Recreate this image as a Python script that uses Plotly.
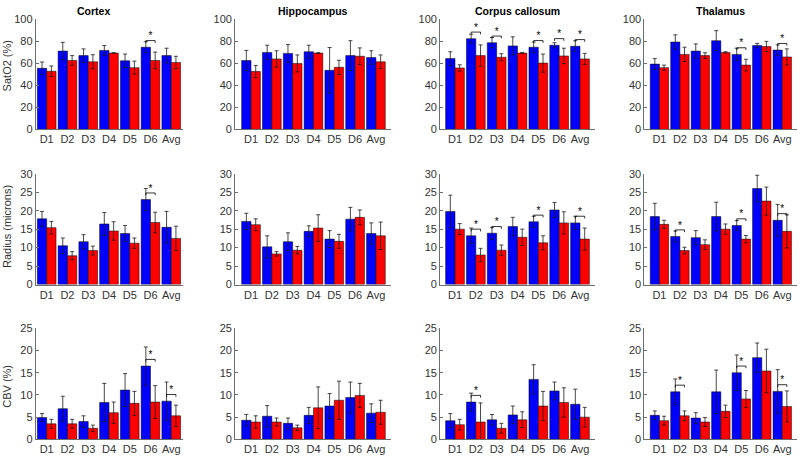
import plotly.graph_objects as go

# ---------------- data ----------------
categories = ["D1", "D2", "D3", "D4", "D5", "D6", "Avg"]
regions = ["Cortex", "Hippocampus", "Corpus callosum", "Thalamus"]
metric_labels = ["SatO2 (%)", "Radius (microns)", "CBV (%)"]
metric_ranges = [100, 30, 25]
metric_ticks = [[0, 20, 40, 60, 80, 100], [0, 5, 10, 15, 20, 25, 30], [0, 5, 10, 15, 20, 25]]

# SatO2 (%)
cortex_sato2_blue = [55.3, 70.9, 66.8, 71.5, 62.1, 74.4, 66.8]
cortex_sato2_blue_err = [5.7, 7.9, 6.1, 4.4, 6.1, 5.0, 6.7]
cortex_sato2_red = [52.6, 62.4, 61.2, 69.1, 55.9, 62.4, 60.6]
cortex_sato2_red_err = [4.8, 4.4, 6.4, 0.3, 5.9, 7.6, 5.6]
cortex_sato2_sig = ["D6"]

hippo_sato2_blue = [62.4, 69.7, 68.8, 70.3, 53.5, 66.8, 65.0]
hippo_sato2_blue_err = [9.1, 6.5, 8.0, 5.9, 20.6, 13.5, 6.2]
hippo_sato2_red = [52.4, 63.8, 59.7, 69.1, 56.2, 66.2, 61.2]
hippo_sato2_red_err = [5.5, 7.4, 7.7, 0.3, 6.4, 7.6, 6.2]
hippo_sato2_sig = []

cc_sato2_blue = [64.1, 82.1, 78.5, 75.6, 74.4, 76.2, 75.3]
cc_sato2_blue_err = [6.2, 4.1, 4.7, 8.2, 4.7, 2.3, 5.0]
cc_sato2_red = [55.6, 66.8, 65.3, 69.1, 60.0, 66.5, 63.8]
cc_sato2_red_err = [2.9, 9.7, 3.2, 0.6, 8.2, 7.0, 5.0]
cc_sato2_sig = ["D2", "D3", "D5", "D6", "Avg"]

thal_sato2_blue = [59.1, 79.1, 70.9, 80.3, 67.9, 75.9, 71.8]
thal_sato2_blue_err = [5.0, 6.5, 6.5, 9.1, 5.6, 2.0, 4.7]
thal_sato2_red = [55.9, 67.9, 66.8, 69.7, 58.2, 75.0, 65.6]
thal_sato2_red_err = [2.3, 6.5, 2.6, 0.6, 5.3, 4.7, 7.3]
thal_sato2_sig = ["D5", "Avg"]

# Radius (microns)
cortex_radius_blue = [17.8, 10.5, 11.6, 16.4, 13.8, 23.0, 15.5]
cortex_radius_blue_err = [2.0, 2.1, 1.9, 3.1, 2.2, 3.0, 4.3]
cortex_radius_red = [15.4, 7.8, 9.2, 14.5, 11.2, 16.8, 12.5]
cortex_radius_red_err = [1.7, 1.1, 1.2, 2.5, 1.4, 2.8, 3.3]
cortex_radius_sig = ["D6"]

hippo_radius_blue = [17.1, 10.2, 11.6, 14.4, 12.3, 17.7, 13.8]
hippo_radius_blue_err = [2.2, 3.0, 2.4, 1.5, 2.3, 3.2, 2.9]
hippo_radius_red = [16.2, 8.3, 9.3, 15.3, 11.7, 18.2, 13.2]
hippo_radius_red_err = [1.6, 0.6, 1.0, 3.6, 1.9, 2.0, 3.7]
hippo_radius_sig = []

cc_radius_blue = [19.8, 13.2, 13.9, 15.7, 17.0, 20.2, 16.7]
cc_radius_blue_err = [4.4, 2.1, 1.6, 2.5, 1.5, 2.0, 1.8]
cc_radius_red = [15.0, 8.0, 9.3, 12.8, 11.3, 16.7, 12.3]
cc_radius_red_err = [1.5, 1.8, 1.4, 2.2, 1.9, 3.0, 3.0]
cc_radius_sig = ["D2", "D3", "D5", "Avg"]

thal_radius_blue = [18.4, 13.0, 12.7, 18.4, 16.0, 26.0, 17.4]
thal_radius_blue_err = [3.6, 1.5, 1.9, 3.9, 1.3, 3.6, 4.3]
thal_radius_red = [16.3, 9.2, 10.8, 15.0, 12.3, 22.6, 14.4]
thal_radius_red_err = [1.1, 0.9, 1.3, 1.4, 1.0, 3.8, 4.5]
thal_radius_sig = ["D2", "D5", "Avg"]

# CBV (%)
cortex_cbv_blue = [4.9, 6.9, 4.0, 8.3, 11.1, 16.5, 8.6]
cortex_cbv_blue_err = [0.9, 2.8, 1.3, 4.3, 3.7, 4.3, 4.3]
cortex_cbv_red = [3.5, 3.5, 2.5, 6.0, 8.1, 8.4, 5.3]
cortex_cbv_red_err = [1.0, 1.0, 0.7, 2.4, 2.7, 3.7, 2.4]
cortex_cbv_sig = ["D6", "Avg"]

hippo_cbv_blue = [4.3, 5.2, 3.6, 5.4, 7.5, 9.4, 5.9]
hippo_cbv_blue_err = [1.3, 2.4, 1.2, 1.8, 2.8, 3.5, 2.1]
hippo_cbv_red = [3.9, 3.9, 2.6, 7.1, 8.8, 9.9, 6.1]
hippo_cbv_red_err = [1.4, 0.9, 0.6, 4.7, 4.3, 2.7, 2.7]
hippo_cbv_sig = []

cc_cbv_blue = [4.2, 8.4, 4.4, 5.5, 13.5, 10.9, 7.9]
cc_cbv_blue_err = [1.6, 2.0, 1.2, 2.0, 3.3, 2.0, 3.4]
cc_cbv_red = [3.3, 3.9, 2.5, 4.4, 7.5, 8.3, 5.0]
cc_cbv_red_err = [1.2, 4.3, 1.1, 1.8, 3.3, 3.3, 2.2]
cc_cbv_sig = ["D2"]

thal_cbv_blue = [5.4, 10.7, 4.8, 10.7, 15.0, 18.4, 10.8]
thal_cbv_blue_err = [1.0, 2.9, 1.2, 4.9, 4.0, 3.3, 4.9]
thal_cbv_red = [4.2, 5.3, 3.9, 6.3, 9.1, 15.4, 7.4]
thal_cbv_red_err = [1.0, 1.1, 1.0, 1.4, 1.9, 4.9, 3.5]
thal_cbv_sig = ["D2", "D5", "Avg"]

panels = [
    [
        (cortex_sato2_blue, cortex_sato2_blue_err, cortex_sato2_red, cortex_sato2_red_err, cortex_sato2_sig),
        (hippo_sato2_blue, hippo_sato2_blue_err, hippo_sato2_red, hippo_sato2_red_err, hippo_sato2_sig),
        (cc_sato2_blue, cc_sato2_blue_err, cc_sato2_red, cc_sato2_red_err, cc_sato2_sig),
        (thal_sato2_blue, thal_sato2_blue_err, thal_sato2_red, thal_sato2_red_err, thal_sato2_sig),
    ],
    [
        (cortex_radius_blue, cortex_radius_blue_err, cortex_radius_red, cortex_radius_red_err, cortex_radius_sig),
        (hippo_radius_blue, hippo_radius_blue_err, hippo_radius_red, hippo_radius_red_err, hippo_radius_sig),
        (cc_radius_blue, cc_radius_blue_err, cc_radius_red, cc_radius_red_err, cc_radius_sig),
        (thal_radius_blue, thal_radius_blue_err, thal_radius_red, thal_radius_red_err, thal_radius_sig),
    ],
    [
        (cortex_cbv_blue, cortex_cbv_blue_err, cortex_cbv_red, cortex_cbv_red_err, cortex_cbv_sig),
        (hippo_cbv_blue, hippo_cbv_blue_err, hippo_cbv_red, hippo_cbv_red_err, hippo_cbv_sig),
        (cc_cbv_blue, cc_cbv_blue_err, cc_cbv_red, cc_cbv_red_err, cc_cbv_sig),
        (thal_cbv_blue, thal_cbv_blue_err, thal_cbv_red, thal_cbv_red_err, thal_cbv_sig),
    ],
]

# ---------------- layout geometry ----------------
W, H = 800, 458
col_px = [(35.7, 183.3), (235.0, 390.7), (440.0, 595.0), (644.3, 797.0)]
col_xrange = [(0.47, 7.58), (0.23, 7.71), (0.28, 7.72), (0.26, 7.72)]
row_px = [(13.3, 126.7), (172.3, 286.0), (331.0, 445.0)]
title_cx = [93, 313, 517.5, 720.5]
ylabel_cy = [62, 227, 391]

FONT = "Liberation Sans, Arial, sans-serif"
AX_COLOR = "#6e6e6e"
TXT_COLOR = "#333333"

xpos = list(range(1, len(categories) + 1))
fig = go.Figure()
layout_axes = {}
annotations = []

k = 0
for r in range(3):
    for c in range(4):
        k += 1
        xa = "x" if k == 1 else f"x{k}"
        ya = "y" if k == 1 else f"y{k}"
        blue, blue_err, red, red_err, sig = panels[r][c]
        rng = metric_ranges[r]
        fig.add_trace(go.Bar(
            x=xpos, y=blue, xaxis=xa, yaxis=ya, offsetgroup="a",
            marker=dict(color="#0000FF", line=dict(color="#000000", width=0.5)),
            error_y=dict(type="data", array=blue_err, color="#1a1a1a", thickness=0.8, width=2),
        ))
        fig.add_trace(go.Bar(
            x=xpos, y=red, xaxis=xa, yaxis=ya, offsetgroup="b",
            marker=dict(color="#FF0000", line=dict(color="#000000", width=0.5)),
            error_y=dict(type="data", array=red_err, color="#1a1a1a", thickness=0.8, width=2),
        ))
        # significance brackets, derived from the bar values
        bx, by, sx, sy = [], [], [], []
        for name in sig:
            i = categories.index(name)
            xc = xpos[i]
            top = max(blue[i], red[i]) + 0.06 * rng
            tick = 0.02 * rng
            bx += [xc - 0.225, xc - 0.225, xc + 0.225, xc + 0.225, None]
            by += [top - tick, top, top, top - tick, None]
            sx.append(xc)
            sy.append(top + 0.035 * rng)
        if sig:
            fig.add_trace(go.Scatter(x=bx, y=by, xaxis=xa, yaxis=ya, mode="lines",
                                     line=dict(color="#000000", width=0.8), hoverinfo="skip"))
            fig.add_trace(go.Scatter(x=sx, y=sy, xaxis=xa, yaxis=ya, mode="text", text=["*"] * len(sx),
                                     textposition="middle center",
                                     textfont=dict(size=10, color="#000000", family=FONT), hoverinfo="skip"))

        x0, x1 = col_px[c]
        y0, y1 = row_px[r]
        layout_axes["xaxis" if k == 1 else f"xaxis{k}"] = dict(
            domain=[x0 / W, x1 / W], range=list(col_xrange[c]), anchor=ya,
            tickmode="array", tickvals=xpos, ticktext=categories,
            showline=True, linecolor=AX_COLOR, linewidth=0.8, ticks="", showgrid=False, zeroline=False,
            tickfont=dict(size=11, color=TXT_COLOR, family=FONT), fixedrange=True,
        )
        layout_axes["yaxis" if k == 1 else f"yaxis{k}"] = dict(
            domain=[1 - y1 / H, 1 - y0 / H], range=[0, rng], anchor=xa,
            tickmode="array", tickvals=metric_ticks[r],
            showline=True, linecolor=AX_COLOR, linewidth=0.8, ticks="inside", ticklen=3,
            tickcolor=AX_COLOR, showgrid=False, zeroline=False,
            tickfont=dict(size=11, color=TXT_COLOR, family=FONT), fixedrange=True,
        )
        if r == 0:
            annotations.append(dict(text=f"<b>{regions[c]}</b>", x=title_cx[c] / W, y=1 - 5.5 / H,
                                    xref="paper", yref="paper", xanchor="center", yanchor="middle",
                                    showarrow=False, font=dict(size=10.5, color="#000000", family=FONT)))
        if c == 0:
            annotations.append(dict(text=metric_labels[r], x=7 / W, y=1 - ylabel_cy[r] / H,
                                    xref="paper", yref="paper", xanchor="center", yanchor="middle",
                                    textangle=-90, showarrow=False,
                                    font=dict(size=11, color=TXT_COLOR, family=FONT)))

fig.update_layout(
    width=W, height=H, margin=dict(l=0, r=0, t=0, b=0),
    paper_bgcolor="white", plot_bgcolor="white",
    barmode="group", bargap=0.1, bargroupgap=0, showlegend=False,
    annotations=annotations, **layout_axes,
)

fig.write_html("out.html", config={"displayModeBar": False},
               post_script="document.body.style.margin='0px';document.body.style.overflow='hidden';")
